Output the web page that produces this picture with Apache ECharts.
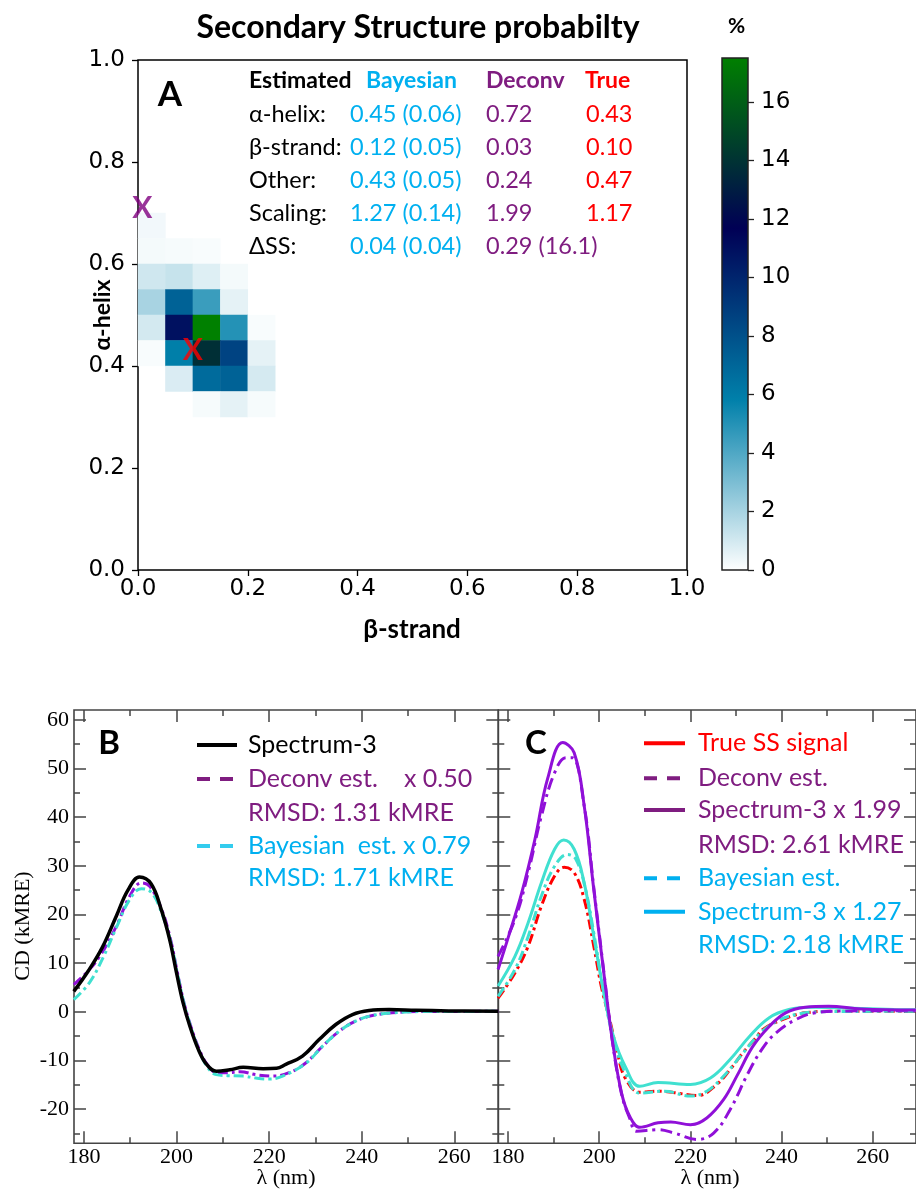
<!DOCTYPE html>
<html>
<head>
<meta charset="utf-8">
<script src="https://cdn.jsdelivr.net/npm/echarts@6/dist/echarts.min.js"></script>
<style>
html, body { margin: 0; padding: 0; background: #fff; }
#chart { width: 916px; height: 1192px; }
</style>
</head>
<body>
<div id="chart"></div>
<script>
// ---- panel A: 2D histogram, bins of 0.05 ----
let betaBins = ['0.00','0.05','0.10','0.15','0.20','0.25','0.30','0.35','0.40','0.45',
                '0.50','0.55','0.60','0.65','0.70','0.75','0.80','0.85','0.90','0.95'];
let helixBins = ['0.00','0.05','0.10','0.15','0.20','0.25','0.30','0.35','0.40','0.45',
                 '0.50','0.55','0.60','0.65','0.70','0.75','0.80','0.85','0.90','0.95'];
// [beta bin, helix bin, %]
let heatCells = [
    [0,13,0.3],
    [0,12,0.25],[1,12,0.2],[2,12,0.15],
    [0,11,1.1],[1,11,1.3],[2,11,0.75],[3,11,0.25],
    [0,10,2.0],[1,10,7.2],[2,10,4.5],[3,10,0.6],
    [0,9,1.0],[1,9,10.9],[2,9,17.5],[3,9,5.0],[4,9,0.15],
    [0,8,0.15],[1,8,5.9],[2,8,13.8],[3,8,8.6],[4,8,0.6],
    [1,7,0.85],[2,7,6.8],[3,7,7.2],[4,7,0.95],
    [2,6,0.2],[3,6,0.6],[4,6,0.2]
];
let deconvMark = [0.008, 0.71];
let trueMark = [0.10, 0.43];
let fracTicks = [0, 0.2, 0.4, 0.6, 0.8, 1.0];
let pctTicks = [0, 2, 4, 6, 8, 10, 12, 14, 16];
let pctMax = 17.5;

let tableNames = ['α-helix:', 'β-strand:', 'Other:', 'Scaling:', 'ΔSS:'];
let tableBayes = ['0.45 (0.06)', '0.12 (0.05)', '0.43 (0.05)', '1.27 (0.14)', '0.04 (0.04)'];
let tableDeconv = ['0.72', '0.03', '0.24', '1.99', '0.29 (16.1)'];
let tableTrue = ['0.43', '0.10', '0.47', '1.17', ''];

// ---- panels B and C: CD spectra, [lambda nm, kMRE] ----
let lamTicks = [180, 200, 220, 240, 260];
let lamMinor = [190, 210, 230, 250];
let cdTicks = [-20, -10, 0, 10, 20, 30, 40, 50, 60];
let cdMinor = [-25, -15, -5, 5, 15, 25, 35, 45, 55];

let spec3 = [[177.8,4.2],[181,8.5],[184,13.3],[187,19.7],[189.5,25.0],[192,27.7],[194.5,26.3],
    [196.7,21.0],[198.5,14.9],[200,8.0],[201.4,1.9],[202.9,-3.0],[204.7,-7.7],[206.5,-10.8],
    [208.6,-12.2],[211.5,-11.9],[214.4,-11.4],[218.7,-11.7],[221.6,-11.6],[223.6,-10.8],
    [227.2,-9.1],[230.8,-5.7],[234.4,-2.6],[238,-0.55],[241.6,0.27],[245.9,0.47],[251.7,0.33],
    [258.8,0.2],[269.5,0.12]];
let deconvHalf = [[177.8,5.6],[180.5,8.0],[183.4,11.4],[187,17.6],[189.9,23.8],[192.4,26.5],
    [194.2,25.8],[196.8,21.0],[198.7,14.9],[200.2,8.0],[201.6,1.9],[203.1,-3.0],[204.9,-7.7],
    [206.7,-10.9],[208.7,-12.5],[211,-12.5],[213.7,-12.3],[217.1,-12.9],[220.7,-13.2],
    [224.3,-12.5],[227.9,-10.5],[231.5,-7.1],[235.1,-4.0],[238.7,-1.9],[242.3,-0.76],
    [246.6,-0.2],[253.1,0.06],[269.5,0.1]];
let bayesScaled = [[177.8,2.5],[181.2,6.0],[184.1,11.1],[187,17.3],[189.9,23.1],[192.4,25.3],
    [194.6,24.5],[196.8,20.3],[198.7,14.5],[200.2,7.8],[201.6,1.8],[203.1,-3.2],[204.9,-8.0],
    [206.7,-11.4],[208.6,-12.9],[211,-13.1],[214.4,-13.2],[217.1,-13.6],[220,-13.8],
    [222.9,-13.2],[227.9,-10.6],[231.5,-7.1],[235.1,-4.0],[238.7,-1.9],[242.3,-0.76],
    [246.6,-0.2],[253.1,0.06],[269.5,0.1]];

let trueSS = [[177.8,2.8],[181.5,8.0],[184.4,13.5],[187.3,21.7],[190.2,27.9],[192.3,29.7],
    [194.5,28.6],[196.7,23.1],[198.8,13.5],[200.5,5.0],[202.4,-2.0],[204,-8.5],[205.7,-13.6],
    [208.9,-16.5],[212.9,-16.3],[216.5,-16.6],[221.5,-17.2],[225.8,-14.9],[229,-11.5],
    [231.6,-8.3],[234.4,-5.3],[235.9,-3.6],[240.2,-1.6],[245.2,-0.2],[251.7,0.12],[269.5,0.15]];
let deconvEst = [[177.8,11.4],[181.5,19.0],[184.4,28.6],[187.3,40.2],[190.2,49.1],[192.7,52.2],
    [194.1,52.2],[196.7,42.3],[198.8,25.5],[201,8.3],[202.8,-5.5],[204.9,-16.9],[206.7,-21.9],
    [208.2,-24.5],[212.9,-24.2],[216.5,-24.9],[221.5,-26.2],[225.1,-24.9],[228.7,-20.1],
    [232.7,-12.5],[235.9,-7.4],[238.8,-4.3],[243.1,-1.6],[247.4,-0.2],[255,0.2],[269.5,0.25]];
let spec3x199 = [[177.8,8.7],[180.1,15.5],[183,24.5],[185.9,35.5],[188.7,48.0],[192,55.3],
    [194.5,53.2],[196.7,42.3],[198.8,25.1],[201,8.0],[202.8,-5.4],[204.9,-16.7],[206.7,-21.5],
    [208.9,-23.7],[212.9,-22.8],[215.7,-22.6],[220,-23.2],[223.6,-21.8],[227.3,-18.0],
    [230.3,-13.0],[233.7,-7.1],[237.3,-3.0],[240.9,-0.2],[245.2,0.95],[250.3,1.15],
    [257.5,0.6],[269.5,0.4]];
let bayesEst = [[177.8,3.2],[181.5,8.7],[184.4,15.5],[187.3,23.8],[190.2,29.9],[193,32.3],
    [194.9,31.3],[197,25.1],[198.8,16.2],[201,3.9],[203.1,-5.5],[205.7,-12.5],[208.9,-16.7],
    [214.3,-16.3],[220,-17.3],[223.6,-16.3],[227.3,-13.2],[231.6,-8.4],[235.5,-4.2],
    [239.5,-1.7],[244,-0.4],[250,0.05],[269.5,0.12]];
let spec3x127 = [[177.8,5.3],[181.5,11.4],[184.4,18.3],[187.3,26.5],[190.2,33.4],[192.2,35.3],
    [194.5,33.4],[196.7,26.5],[198.8,15.5],[201,3.9],[203.1,-5.0],[205.7,-11.2],[208.9,-15.3],
    [212.9,-14.5],[220,-14.9],[224.4,-13.6],[228.7,-9.8],[233,-5.0],[237.3,-1.2],[241.6,0.47],
    [246.7,0.95],[253.9,0.8],[264.7,0.5],[269.5,0.45]];

// ---- styles ----
const sans = 'Lato';
const serif = 'Liberation Serif';
const dejavu = 'DejaVu Sans';
const cyanText = '#00b0f0';
const purpleText = '#7f1d80';
const lineViolet = '#9010d8';
const lineTurq = '#40e0d0';
const frame = '#444';
const oceanR = ['#ffffff', '#0080aa', '#000055', '#008000'];
const lamMin = 177.85, lamMax = 269.5, cdMin = -27, cdMax = 62;

function graceX(grid, pos, ticks, len, labels) {
    return {
        type: 'value', gridIndex: grid, position: pos, min: lamMin, max: lamMax,
        axisLine: { show: false, onZero: false },
        axisTick: { show: true, inside: true, length: len, customValues: ticks,
                    lineStyle: { color: frame, width: 1.5 } },
        axisLabel: labels ? { show: true, customValues: labels, margin: 3,
                              fontFamily: serif, fontSize: 22, color: '#000' } : { show: false },
        splitLine: { show: false }
    };
}
function graceY(grid, pos, ticks, len, labels) {
    return {
        type: 'value', gridIndex: grid, position: pos, min: cdMin, max: cdMax,
        axisLine: { show: false, onZero: false },
        axisTick: { show: true, inside: true, length: len, customValues: ticks,
                    lineStyle: { color: frame, width: 1.5 } },
        axisLabel: labels ? { show: true, customValues: labels, margin: 5,
                              fontFamily: serif, fontSize: 22, color: '#000' } : { show: false },
        splitLine: { show: false }
    };
}
function text(x, y, s, font, color, align, rot) {
    return {
        type: 'text', x: x, y: y, rotation: rot || 0, z: 100,
        style: { text: s, x: 0, y: 0, font: font, fill: color,
                 align: align || 'left', verticalAlign: 'middle',
                 textAlign: align || 'left', textVerticalAlign: 'middle' }
    };
}
function legLine(x1, x2, y, color, dashed) {
    return {
        type: 'line', z: 100,
        shape: { x1: x1, y1: y, x2: x2, y2: y },
        style: { stroke: color, lineWidth: 4, lineDash: dashed ? [13, 10] : null }
    };
}
function curve(name, data, xi, yi, color, width, dash) {
    return {
        name: name, type: 'line', xAxisIndex: xi, yAxisIndex: yi, data: data,
        showSymbol: false, smooth: 0.4, clip: true,
        lineStyle: { color: color, width: width, type: dash || 'solid' }
    };
}

let graphics = [];
graphics.push(text(418, 28, 'Secondary Structure probabilty', 'bold 32px ' + sans, '#000', 'center'));
graphics.push(text(736.5, 26, '%', 'bold 21px ' + sans, '#000', 'center'));
graphics.push(text(170, 95, 'A', 'bold 35px ' + sans, '#000', 'center'));
graphics.push(text(412, 630, 'β-strand', 'bold 26px ' + sans, '#000', 'center'));
graphics.push(text(103, 315, 'α-helix', 'bold 23px ' + sans, '#000', 'center', Math.PI / 2));

// table in panel A
const rowY = [114.3, 147.7, 180, 213.3, 246.7];
graphics.push(text(249, 81, 'Estimated', 'bold 23px ' + sans, '#000'));
graphics.push(text(366, 81, 'Bayesian', 'bold 23px ' + sans, cyanText));
graphics.push(text(486, 81, 'Deconv', 'bold 23px ' + sans, purpleText));
graphics.push(text(585, 81, 'True', 'bold 23px ' + sans, '#ff0000'));
for (let i = 0; i < tableNames.length; i++) {
    graphics.push(text(249, rowY[i], tableNames[i], '23.5px ' + sans, '#000'));
    graphics.push(text(350, rowY[i], tableBayes[i], '23.5px ' + sans, cyanText));
    graphics.push(text(486, rowY[i], tableDeconv[i], '23.5px ' + sans, purpleText));
    graphics.push(text(586, rowY[i], tableTrue[i], '23.5px ' + sans, '#ff0000'));
}

// colorbar
graphics.push({
    type: 'rect', z: 10,
    shape: { x: 722, y: 58, width: 26, height: 512 },
    style: {
        fill: new echarts.graphic.LinearGradient(0, 1, 0, 0, [
            { offset: 0, color: oceanR[0] }, { offset: 1 / 3, color: oceanR[1] },
            { offset: 2 / 3, color: oceanR[2] }, { offset: 1, color: oceanR[3] }]),
        stroke: '#222', lineWidth: 1.5
    }
});

// panels B, C labels
graphics.push(text(109, 743, 'B', 'bold 33px ' + sans, '#000', 'center'));
graphics.push(text(536, 743, 'C', 'bold 33px ' + sans, '#000', 'center'));
graphics.push(text(23, 926, 'CD (kMRE)', '22px ' + serif, '#000', 'center', Math.PI / 2));
graphics.push(text(286, 1178, 'λ (nm)', '22px ' + serif, '#000', 'center'));
graphics.push(text(710, 1178, 'λ (nm)', '22px ' + serif, '#000', 'center'));

// legend B
const legFont = '25px ' + sans;
graphics.push(legLine(197, 237, 745, '#000', false));
graphics.push(text(248, 745, 'Spectrum-3', legFont, '#000'));
graphics.push(legLine(197, 237, 779, purpleText, true));
graphics.push(text(248, 779, 'Deconv est.', legFont, purpleText));
graphics.push(text(404, 779, 'x 0.50', legFont, purpleText));
graphics.push(text(248, 812.7, 'RMSD: 1.31 kMRE', legFont, purpleText));
graphics.push(legLine(197, 237, 846, '#33ccee', true));
graphics.push(text(248, 846, 'Bayesian  est. x 0.79', legFont, cyanText));
graphics.push(text(248, 878.3, 'RMSD: 1.71 kMRE', legFont, cyanText));

// legend C
graphics.push(legLine(644, 685, 743.3, '#ff0000', false));
graphics.push(text(698, 743.3, 'True SS signal', legFont, '#ff0000'));
graphics.push(legLine(644, 685, 778.3, purpleText, true));
graphics.push(text(698, 778.3, 'Deconv est.', legFont, purpleText));
graphics.push(legLine(644, 685, 810, purpleText, false));
graphics.push(text(698, 810, 'Spectrum-3 x 1.99', legFont, purpleText));
graphics.push(text(698, 845, 'RMSD: 2.61 kMRE', legFont, purpleText));
graphics.push(legLine(644, 685, 878.3, cyanText, true));
graphics.push(text(698, 878.3, 'Bayesian est.', legFont, cyanText));
graphics.push(legLine(644, 685, 911.7, cyanText, false));
graphics.push(text(698, 911.7, 'Spectrum-3 x 1.27', legFont, cyanText));
graphics.push(text(698, 945, 'RMSD: 2.18 kMRE', legFont, cyanText));

let option = {
    animation: false,
    backgroundColor: '#fff',
    grid: [
        { left: 138, top: 60, width: 549, height: 510, show: true, borderColor: '#000', borderWidth: 1.5 },
        { left: 722, top: 58, width: 26, height: 512 },
        { left: 74, top: 710, width: 424.3, height: 433.3, show: true, borderColor: frame, borderWidth: 1.6 },
        { left: 498.3, top: 710, width: 424.3, height: 433.3, show: true, borderColor: frame, borderWidth: 1.6 }
    ],
    xAxis: [
        { type: 'value', gridIndex: 0, position: 'bottom', min: 0, max: 1,
          axisLine: { show: false, onZero: false },
          axisTick: { show: true, inside: false, length: 6, customValues: fracTicks,
                      lineStyle: { color: '#000', width: 1.3 } },
          axisLabel: { customValues: fracTicks, margin: 8, fontFamily: dejavu, fontSize: 23, color: '#000',
                       formatter: v => v.toFixed(1) },
          splitLine: { show: false } },
        { type: 'category', gridIndex: 0, position: 'top', data: betaBins, show: false },
        { type: 'value', gridIndex: 1, show: false, min: 0, max: 1 },
        graceX(2, 'bottom', lamTicks, 12, lamTicks),
        graceX(2, 'bottom', lamMinor, 6, null),
        graceX(2, 'top', lamTicks, 12, null),
        graceX(2, 'top', lamMinor, 6, null),
        graceX(3, 'bottom', lamTicks, 12, lamTicks),
        graceX(3, 'bottom', lamMinor, 6, null),
        graceX(3, 'top', lamTicks, 12, null),
        graceX(3, 'top', lamMinor, 6, null)
    ],
    yAxis: [
        { type: 'value', gridIndex: 0, position: 'left', min: 0, max: 1,
          axisLine: { show: false, onZero: false },
          axisTick: { show: true, inside: false, length: 6, customValues: fracTicks,
                      lineStyle: { color: '#000', width: 1.3 } },
          axisLabel: { customValues: fracTicks, margin: 13, fontFamily: dejavu, fontSize: 23, color: '#000',
                       formatter: v => v.toFixed(1) },
          splitLine: { show: false } },
        { type: 'category', gridIndex: 0, position: 'right', data: helixBins, show: false },
        { type: 'value', gridIndex: 1, position: 'right', min: 0, max: pctMax,
          axisLine: { show: false, onZero: false },
          axisTick: { show: true, inside: false, length: 6, customValues: pctTicks,
                      lineStyle: { color: '#222', width: 1.3 } },
          axisLabel: { customValues: pctTicks, margin: 13, fontFamily: dejavu, fontSize: 23, color: '#000' },
          splitLine: { show: false } },
        graceY(2, 'left', cdTicks, 12, cdTicks),
        graceY(2, 'left', cdMinor, 6, null),
        graceY(2, 'right', cdTicks, 12, null),
        graceY(2, 'right', cdMinor, 6, null),
        graceY(3, 'left', cdTicks, 12, null),
        graceY(3, 'left', cdMinor, 6, null),
        graceY(3, 'right', cdTicks, 12, null),
        graceY(3, 'right', cdMinor, 6, null)
    ],
    visualMap: { type: 'continuous', show: false, min: 0, max: pctMax, seriesIndex: 0, dimension: 2,
                 inRange: { color: oceanR } },
    series: [
        { type: 'heatmap', xAxisIndex: 1, yAxisIndex: 1, data: heatCells, itemStyle: { borderWidth: 0 } },
        { type: 'scatter', xAxisIndex: 0, yAxisIndex: 0, clip: false, symbolSize: 1,
          itemStyle: { color: 'rgba(0,0,0,0)' },
          label: { show: true, position: 'inside', formatter: 'X', fontFamily: sans, fontWeight: 'bold', fontSize: 30 },
          data: [
              { value: deconvMark, label: { color: '#800080' } },
              { value: trueMark, label: { color: '#ff0000' } }
          ] },
        curve('Deconv est. x 0.50', deconvHalf, 3, 3, lineViolet, 3, [10, 4, 3, 4]),
        curve('Bayesian est. x 0.79', bayesScaled, 3, 3, lineTurq, 3, [10, 4, 3, 4]),
        curve('Spectrum-3', spec3, 3, 3, '#000', 3.5),
        curve('True SS signal', trueSS, 7, 7, '#ff0000', 3, [10, 4, 3, 4]),
        curve('Bayesian est.', bayesEst, 7, 7, lineTurq, 3, [10, 4, 3, 4]),
        curve('Deconv est.', deconvEst, 7, 7, lineViolet, 3, [12, 5, 3, 5]),
        curve('Spectrum-3 x 1.27', spec3x127, 7, 7, lineTurq, 3),
        curve('Spectrum-3 x 1.99', spec3x199, 7, 7, lineViolet, 3)
    ],
    graphic: graphics
};

let chart = echarts.init(document.getElementById('chart'));
chart.setOption(option);
</script>
</body>
</html>
